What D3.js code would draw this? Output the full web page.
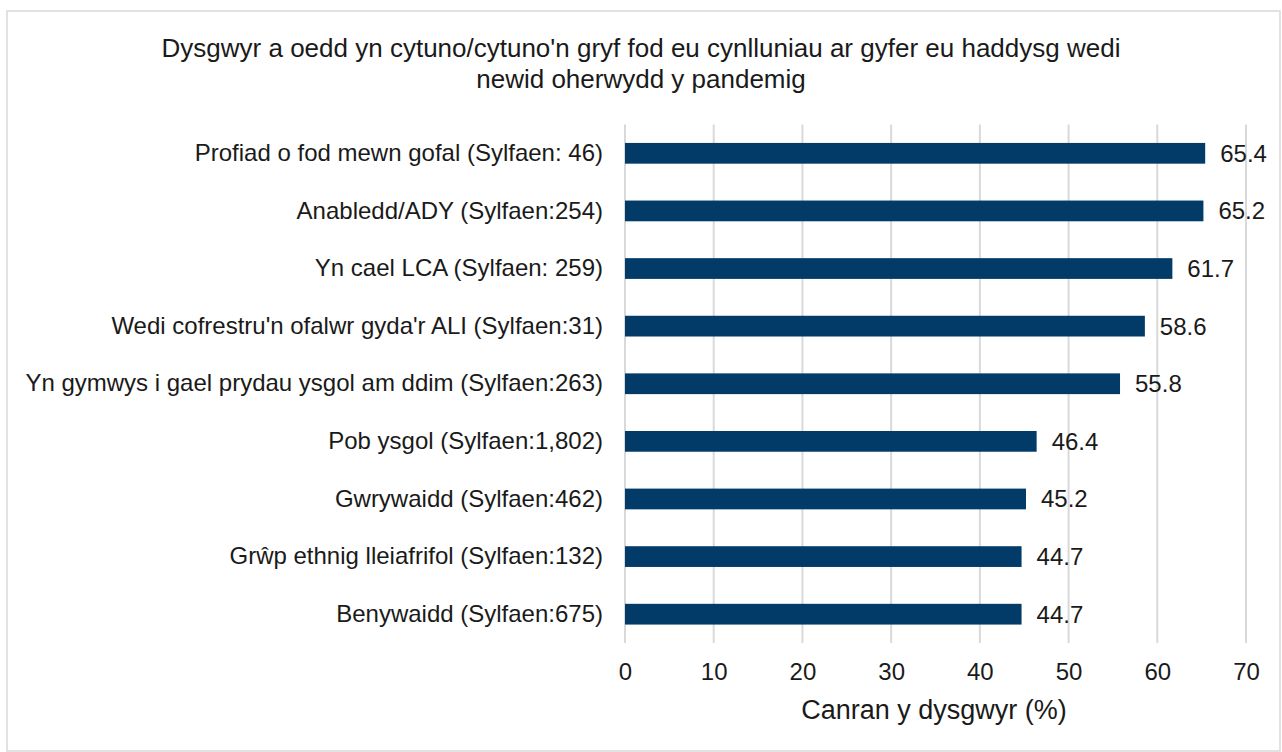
<!DOCTYPE html>
<html>
<head>
<meta charset="utf-8">
<script src="https://cdn.jsdelivr.net/npm/d3@7"></script>
<style>
  html, body { margin: 0; padding: 0; background: #fff; }
  svg { display: block; font-family: "Liberation Sans", Arial, sans-serif; }
</style>
</head>
<body>
<svg id="chart" width="1282" height="752"></svg>
<script>
const titleLines = [
  "Dysgwyr a oedd yn cytuno/cytuno'n gryf fod eu cynlluniau ar gyfer eu haddysg wedi",
  "newid oherwydd y pandemig"
];
const categories = [
  "Profiad o fod mewn gofal (Sylfaen: 46)",
  "Anabledd/ADY (Sylfaen:254)",
  "Yn cael LCA (Sylfaen: 259)",
  "Wedi cofrestru'n ofalwr gyda'r ALI (Sylfaen:31)",
  "Yn gymwys i gael prydau ysgol am ddim (Sylfaen:263)",
  "Pob ysgol (Sylfaen:1,802)",
  "Gwrywaidd (Sylfaen:462)",
  "Grŵp ethnig lleiafrifol (Sylfaen:132)",
  "Benywaidd (Sylfaen:675)"
];
const values = [65.4, 65.2, 61.7, 58.6, 55.8, 46.4, 45.2, 44.7, 44.7];
const xTicks = [0, 10, 20, 30, 40, 50, 60, 70];
const xAxisTitle = "Canran y dysgwyr (%)";

(function () {
const svg = d3.select("#chart");
const W = 1282, H = 752;

svg.append("rect").attr("x", 7).attr("y", 11).attr("width", W - 9).attr("height", H - 12)
  .attr("fill", "#fff").attr("stroke", "#d9d9d9").attr("stroke-width", 1.5);

const pLeft = 625, pRight = 1246, pTop = 124.5, pBottom = 643;
const x = d3.scaleLinear().domain([0, 70]).range([pLeft, pRight]);
const y = d3.scaleBand().domain(categories).range([pTop, pBottom]).paddingInner(0.64).paddingOuter(0.32);

svg.append("g").selectAll("text").data(titleLines).join("text")
  .attr("x", 641).attr("y", (d, i) => 57 + i * 31)
  .attr("text-anchor", "middle").attr("font-size", 26).attr("fill", "#1a1a1a")
  .text(d => d);

svg.append("g").selectAll("line").data(xTicks).join("line")
  .attr("x1", d => x(d)).attr("x2", d => x(d))
  .attr("y1", pTop).attr("y2", pBottom)
  .attr("stroke", "#d9d9d9").attr("stroke-width", 2);

const xAxis = d3.axisBottom(x).tickValues(xTicks).tickSize(0).tickPadding(0);
const gx = svg.append("g").attr("transform", `translate(0,${pBottom})`).call(xAxis);
gx.select(".domain").remove();
gx.selectAll("text").attr("font-size", 24).attr("fill", "#1a1a1a")
  .attr("font-family", "Liberation Sans, Arial, sans-serif").attr("dy", 37);

const yAxis = d3.axisLeft(y).tickSize(0).tickPadding(22);
const gy = svg.append("g").attr("transform", `translate(${pLeft},0)`).call(yAxis);
gy.select(".domain").remove();
gy.selectAll("text").attr("font-size", 24).attr("fill", "#1a1a1a")
  .attr("font-family", "Liberation Sans, Arial, sans-serif");

svg.append("g").selectAll("rect").data(values).join("rect")
  .attr("x", x(0)).attr("y", (d, i) => y(categories[i]))
  .attr("width", d => x(d) - x(0)).attr("height", y.bandwidth())
  .attr("fill", "#023b68");

svg.append("g").selectAll("text").data(values).join("text")
  .attr("x", d => x(d) + 15).attr("y", (d, i) => y(categories[i]) + y.bandwidth() / 2)
  .attr("dy", "0.35em").attr("font-size", 24).attr("fill", "#1a1a1a")
  .text(d => d.toFixed(1));

svg.append("text").attr("x", 934).attr("y", 719).attr("text-anchor", "middle")
  .attr("font-size", 27).attr("fill", "#1a1a1a").text(xAxisTitle);
})();
</script>
</body>
</html>
